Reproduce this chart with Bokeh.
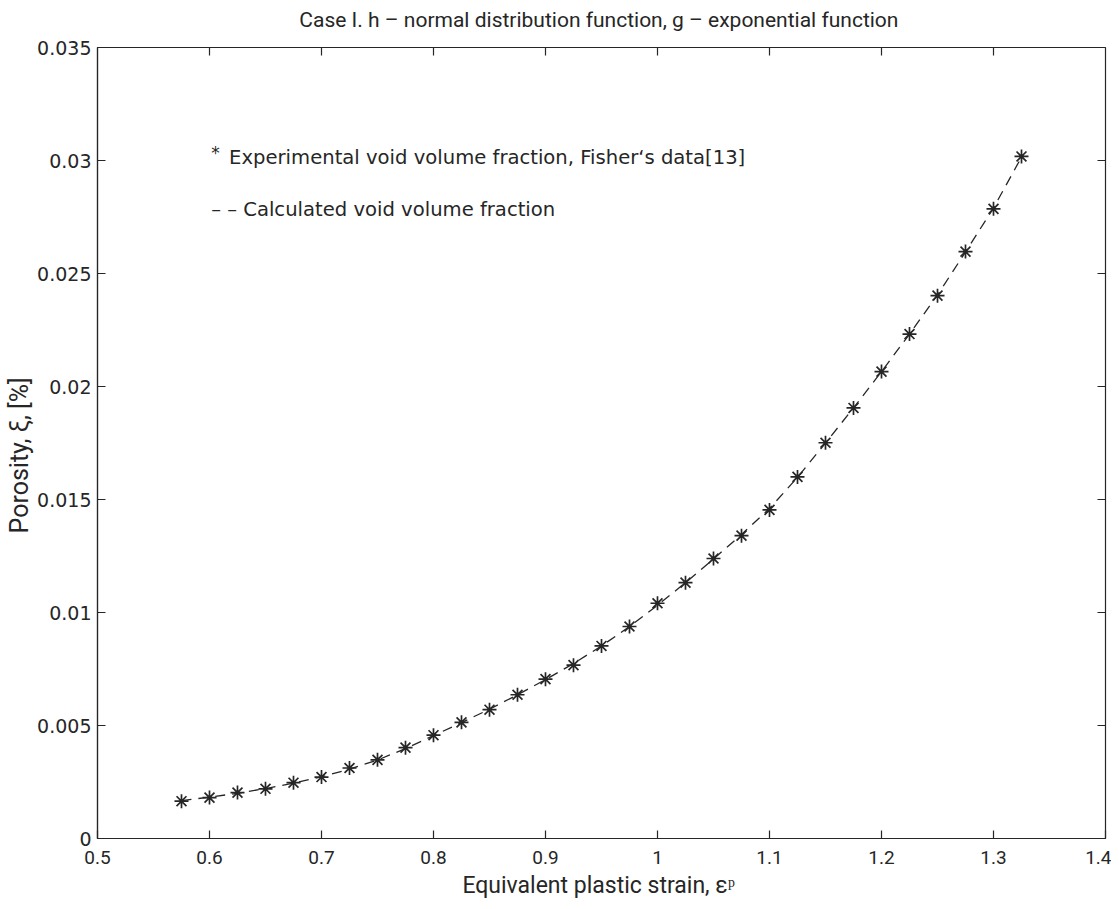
import math
from bokeh.plotting import figure
from bokeh.models import Range1d, FixedTicker, Label, LinearAxis
from bokeh.embed import file_html
from bokeh.resources import INLINE

# ---- data ----
strain = [0.575, 0.600, 0.625, 0.650, 0.675, 0.700, 0.725, 0.750, 0.775, 0.800,
          0.825, 0.850, 0.875, 0.900, 0.925, 0.950, 0.975, 1.000, 1.025, 1.050,
          1.075, 1.100, 1.125, 1.150, 1.175, 1.200, 1.225, 1.250, 1.275, 1.300, 1.325]
porosity_exp = [0.00165, 0.00181, 0.00203, 0.00220, 0.00247, 0.00272, 0.00312, 0.00348,
                0.00402, 0.00457, 0.00514, 0.00570, 0.00636, 0.00705, 0.00767, 0.00852,
                0.00938, 0.01041, 0.01132, 0.01239, 0.01340, 0.01454, 0.01600, 0.01751,
                0.01905, 0.02066, 0.02232, 0.02402, 0.02597, 0.02786, 0.03018]
porosity_calc = [0.00168, 0.00183, 0.00200, 0.00221, 0.00245, 0.00273, 0.00307, 0.00347,
                 0.00398, 0.00455, 0.00513, 0.00572, 0.00636, 0.00703, 0.00774, 0.00852,
                 0.00938, 0.01032, 0.01132, 0.01237, 0.01345, 0.01460, 0.01598, 0.01750,
                 0.01905, 0.02066, 0.02232, 0.02405, 0.02595, 0.02790, 0.03015]

x_ticks = [0.5, 0.6, 0.7, 0.8, 0.9, 1.0, 1.1, 1.2, 1.3, 1.4]
x_tick_labels = ["0.5", "0.6", "0.7", "0.8", "0.9", "1", "1.1", "1.2", "1.3", "1.4"]
y_ticks = [0.0, 0.005, 0.010, 0.015, 0.020, 0.025, 0.030, 0.035]
y_tick_labels = ["0", "0.005", "0.01", "0.015", "0.02", "0.025", "0.03", "0.035"]
x_lim = (0.5, 1.4)
y_lim = (0.0, 0.035)

title_text = "Case I.  h \u2013 normal distribution function, g \u2013 exponential function"
x_label = "Equivalent plastic strain,  \u03b5\u1d56"
y_label = "Porosity,   \u03be,   [%]"
legend_exp = "Experimental void volume fraction, Fisher\u2018s data[13]"
legend_calc = "\u2013 \u2013 Calculated void volume fraction"

INK = "#262626"
NARROW = "Roboto"
WIDE = "DejaVu Sans"

p = figure(width=1111, height=901,
           x_range=Range1d(*x_lim), y_range=Range1d(*y_lim),
           output_backend="svg", toolbar_location=None,
           min_border_left=97, min_border_right=6, min_border_top=47, min_border_bottom=62)
p.grid.visible = False
p.background_fill_color = "white"
p.border_fill_color = "white"
p.outline_line_color = INK
p.outline_line_width = 1.2

def style_axis(ax, ticks, labels):
    ax.ticker = FixedTicker(ticks=ticks)
    ax.major_label_overrides = {t: l for t, l in zip(ticks, labels)}
    ax.major_tick_in = 8
    ax.major_tick_out = 0
    ax.minor_tick_in = 0
    ax.minor_tick_out = 0
    ax.axis_line_color = INK
    ax.axis_line_width = 1.2
    ax.major_tick_line_color = INK
    ax.major_tick_line_width = 1.2
    ax.major_label_text_color = INK

xa = p.xaxis[0]
style_axis(xa, x_ticks, x_tick_labels)
xa.major_label_text_font = NARROW
xa.major_label_text_font_size = "19px"
xa.major_label_standoff = 12
xa.axis_label = x_label
xa.axis_label_text_font = NARROW
xa.axis_label_text_font_size = "23px"
xa.axis_label_text_font_style = "normal"
xa.axis_label_text_color = INK
xa.axis_label_standoff = 5

ya = p.yaxis[0]
style_axis(ya, y_ticks, y_tick_labels)
ya.major_label_text_font = WIDE
ya.major_label_text_font_size = "19px"
ya.major_label_standoff = 6
ya.axis_label = y_label
ya.axis_label_text_font = NARROW
ya.axis_label_text_font_size = "25px"
ya.axis_label_text_line_height = 1.0
ya.axis_label_text_font_style = "normal"
ya.axis_label_text_color = INK
ya.axis_label_standoff = 0

# title drawn as the label of a tick-less axis above the box
title_axis = LinearAxis(ticker=FixedTicker(ticks=[]))
title_axis.axis_line_color = None
title_axis.major_tick_line_color = None
title_axis.minor_tick_line_color = None
title_axis.major_tick_out = 0
title_axis.major_label_standoff = 0
title_axis.axis_label = title_text
title_axis.axis_label_text_font = NARROW
title_axis.axis_label_text_font_size = "21px"
title_axis.axis_label_text_font_style = "normal"
title_axis.axis_label_text_color = INK
title_axis.axis_label_standoff = 16
p.add_layout(title_axis, "above")

# inward ticks on the top and right sides of the box
p.ray(x=x_ticks[1:-1], y=[y_lim[1]] * (len(x_ticks) - 2), length=8, length_units="screen",
      angle=-math.pi / 2, line_color=INK, line_width=1.2)
p.ray(x=[x_lim[1]] * (len(y_ticks) - 2), y=y_ticks[1:-1], length=8, length_units="screen",
      angle=math.pi, line_color=INK, line_width=1.2)

# calculated curve (dashed) and experimental points (asterisks)
p.line(strain, porosity_calc, line_color=INK, line_width=1.3, line_dash="10 7")
p.scatter(strain, porosity_exp, marker="asterisk", size=14, line_color=INK, line_width=1.7)

# in-plot legend texts
p.add_layout(Label(x=0.6015, y=0.03035, text="*", text_font=WIDE, text_font_size="17px",
                   text_color=INK, text_baseline="middle", text_align="left"))
p.add_layout(Label(x=0.6175, y=0.03015, text=legend_exp, text_font=WIDE, text_font_size="19.6px",
                   text_color=INK, text_baseline="middle", text_align="left"))
p.add_layout(Label(x=0.6015, y=0.02785, text=legend_calc, text_font=WIDE, text_font_size="19.6px",
                   text_color=INK, text_baseline="middle", text_align="left"))

open("out.html", "w").write(file_html(p, INLINE))
